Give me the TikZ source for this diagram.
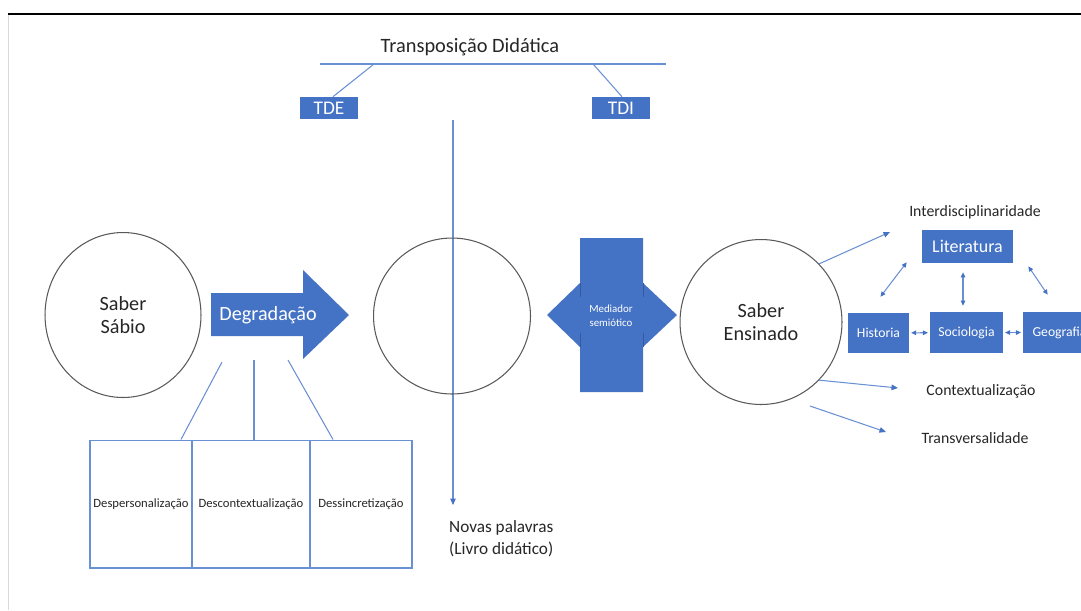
\documentclass[tikz,border=0pt]{standalone}
\usepackage{fontspec}
\setmainfont{Carlito}
\usepackage{tikz}
\usetikzlibrary{positioning, shapes.geometric, arrows.meta, calc}

\definecolor{azul}{HTML}{4472C4}
\definecolor{traco}{HTML}{6A90D4}
\definecolor{borda}{HTML}{595959}
\definecolor{texto}{HTML}{262626}

\begin{document}
\begin{tikzpicture}[x=0.02cm, y=-0.02cm,
  circulo/.style={ellipse, draw=borda, line width=0.6pt, font=\fontsize{11.5}{13.5}\selectfont, text=texto, align=center},
  caixa/.style={rectangle, fill=azul, text=white, inner sep=0pt, align=center},
  celula/.style={rectangle, draw=traco, line width=0.6pt, minimum height=2.56cm, inner sep=0pt, font=\fontsize{7.2}{8.5}\selectfont, text=texto},
  fio/.style={draw=traco, line width=0.6pt},
  arr/.style={fio, -{Triangle[length=0.13cm, width=0.11cm, color=azul]}},
  darr/.style={fio, {Triangle[length=0.1cm, width=0.09cm, color=azul]}-{Triangle[length=0.1cm, width=0.09cm, color=azul]}},
  nota/.style={font=\fontsize{9}{11}\selectfont, text=texto, align=left}
]
  \useasboundingbox (0,0) rectangle (1081,610);
  % page frame
  \draw[black, line width=1.2pt] (8,14) -- (1081,14);
  \draw[black!15, line width=0.4pt] (8,15) -- (8,610);

  % Transposicao didatica
  \node[font=\fontsize{11.6}{13}\selectfont, text=texto] (titulo) at (470,47) {Transposição Didática};
  \coordinate (hl) at (320,64);
  \coordinate (hr) at (666,64);
  \draw[fio] (hl) -- (hr);
  \node[caixa, minimum width=1.16cm, minimum height=0.44cm, font=\fontsize{11}{12}\selectfont] (tde) at (329,108) {TDE};
  \node[caixa, minimum width=1.16cm, minimum height=0.44cm, font=\fontsize{11}{12}\selectfont] (tdi) at (621,108) {TDI};
  \coordinate (pe) at (374,64);
  \coordinate (pd) at (593,64);
  \draw[fio] (pe) -- ($(tde.north)+(4,0)$);
  \draw[fio] (pd) -- ($(tdi.north)+(1,0)$);

  % eixo vertical
  \node[nota, font=\fontsize{9.8}{12.5}\selectfont, anchor=north west] (novas) at (443,514) {Novas palavras\\(Livro didático)};
  \coordinate (vtop) at (453,120);
  \draw[arr] (vtop) -- (vtop |- 0,505);

  % circulos
  \node[circulo, minimum width=3.12cm, minimum height=3.3cm] (sabio) at (123,315) {Saber\\Sábio};
  \node[circulo, minimum width=3.14cm, minimum height=3.12cm] (meio) at (452,316) {};
  \node[circulo, minimum width=3.24cm, minimum height=3.3cm] (ensinado) at (761,322) {Saber\\Ensinado};

  % seta degradacao
  \fill[azul] (211,293) -- (303,293) -- (303,270) -- (349,315) -- (303,359) -- (303,336) -- (211,336) -- cycle;
  \node[text=white, font=\fontsize{11.5}{13}\selectfont] (degr) at (268,315) {Degradação};

  % mediador semiotico
  \fill[azul] (580,238) -- (643,238) -- (643,283) -- (677,315) -- (643,347) -- (643,392)
    -- (580,392) -- (580,347) -- (547,315) -- (580,283) -- cycle;
  \draw[azul!80!black, line width=0.3pt] (580,283) -- (580,297) (580,333) -- (580,347)
    (643,283) -- (643,297) (643,333) -- (643,347);
  \node[text=white, font=\fontsize{6.2}{8}\selectfont, align=center] (mediador) at (611,316) {Mediador\\semiótico};

  % tabela inferior
  \node[celula, minimum width=2.04cm] (c1) at (141,504) {Despersonalização};
  \node[celula, minimum width=2.36cm] (c2) at (251,504) {Descontextualização};
  \node[celula, minimum width=2.04cm] (c3) at (361,504) {Dessincretização};
  \coordinate (d1) at (222,362);
  \coordinate (d2) at (254,360);
  \coordinate (d3) at (288,360);
  \draw[fio] (d1) -- ($(c1.north)+(40,0)$);
  \draw[fio] (d2) -- ($(c2.north)+(3,0)$);
  \draw[fio] (d3) -- ($(c3.north)+(-28,0)$);

  % disciplinas
  \node[caixa, minimum width=1.82cm, minimum height=0.66cm, font=\fontsize{10.2}{11}\selectfont] (lit) at (967.5,246.5) {Literatura};
  \node[caixa, minimum width=1.22cm, minimum height=0.80cm, font=\fontsize{7.8}{9}\selectfont] (hist) at (878.5,333) {Historia};
  \node[caixa, minimum width=1.46cm, minimum height=0.82cm, font=\fontsize{7.8}{9}\selectfont] (soc) at (966.5,332.5) {Sociologia};
  \node[caixa, minimum width=1.46cm, minimum height=0.82cm, font=\fontsize{7.8}{9}\selectfont] (geo) at (1059.5,332.5) {Geografia};
  \draw[darr, shorten <=1pt, shorten >=1pt] (hist) -- (soc);
  \draw[darr, shorten <=1pt, shorten >=1pt] (soc) -- (geo);
  \draw[darr] ($(lit.south)+(-4.5,9)$) -- ($(soc.north)+(-3.5,-6)$);
  \draw[darr] ($(lit.south west)+(-15,-1)$) -- ($(hist.north)+(2,-16)$);
  \draw[darr] ($(lit.south east)+(15,3)$) -- ($(geo.north west)+(25,-17)$);

  % saidas do saber ensinado
  \node[nota] (inter) at (975,212) {Interdisciplinaridade};
  \node[nota] (contex) at (981,391) {Contextualização};
  \node[nota] (transv) at (975,438) {Transversalidade};
  \coordinate (a1) at (890,232);
  \coordinate (a2) at (898,388);
  \coordinate (t0) at (810,406);
  \coordinate (a3) at (886,432);
  \draw[arr] (ensinado.45) -- (a1);
  \draw[arr] (ensinado.-45) -- (a2);
  \draw[arr] (t0) -- (a3);
\end{tikzpicture}
\end{document}
